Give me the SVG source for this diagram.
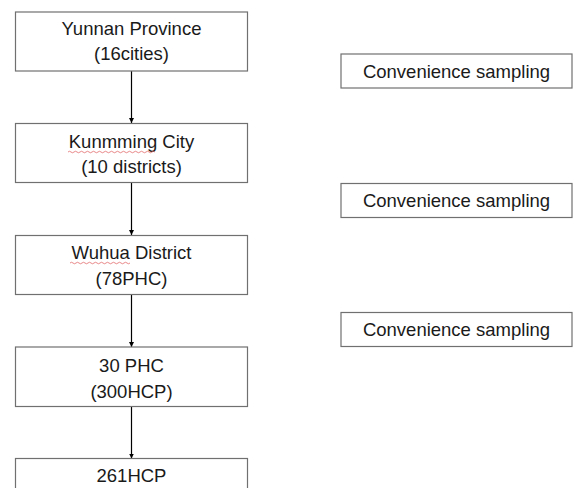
<svg xmlns="http://www.w3.org/2000/svg" width="574" height="488" viewBox="0 0 574 488">
  <defs>
    <marker id="arrowhead" viewBox="0 0 10 10" refX="10" refY="5" markerWidth="5" markerHeight="6" markerUnits="userSpaceOnUse" orient="auto">
      <path d="M0,0 L10,5 L0,10 Z" fill="#000"/>
    </marker>
    <style>
      .box { fill: #fff; stroke: #707070; stroke-width: 1.2; }
      .label { font-family: "Liberation Sans", Arial, sans-serif; font-size: 18.5px; fill: #1a1a1a; text-anchor: middle; }
      .edge { stroke: #000; stroke-width: 1.2; fill: none; marker-end: url(#arrowhead); }
      .squiggle { stroke: #e26a6a; stroke-width: 0.8; fill: none; }
    </style>
  </defs>
  <rect width="574" height="488" fill="#fff"/>

  <g id="connectors">
    <line class="edge" x1="131.5" y1="71" x2="131.5" y2="123"/>
    <line class="edge" x1="131.5" y1="183" x2="131.5" y2="235"/>
    <line class="edge" x1="131.5" y1="295" x2="131.5" y2="347"/>
    <line class="edge" x1="131.5" y1="407" x2="131.5" y2="458.5"/>
  </g>

  <g id="yunnan">
    <rect class="box" x="15.5" y="12" width="232" height="59"/>
    <text class="label" x="131.5" y="35">Yunnan Province</text>
    <text class="label" x="131.5" y="60">(16cities)</text>
  </g>

  <g id="kunming">
    <rect class="box" x="15.5" y="123.5" width="232" height="59"/>
    <text class="label" x="131.5" y="148">Kunmming City</text>
    <!-- spell-check underline under the first word -->
    <path class="squiggle" d="M68,152 q1.5,-1.5 3,0 t3,0 t3,0 t3,0 t3,0 t3,0 t3,0 t3,0 t3,0 t3,0 t3,0 t3,0 t3,0 t3,0 t3,0 t3,0 t3,0 t3,0 t3,0 t3,0 t3,0 t3,0 t3,0 t3,0 t3,0 t3,0 t3,0 t3,0 t3,0"/>
    <text class="label" x="131.5" y="173">(10 districts)</text>
  </g>

  <g id="wuhua">
    <rect class="box" x="15.5" y="235.5" width="232" height="59"/>
    <text class="label" x="131.5" y="259">Wuhua District</text>
    <path class="squiggle" d="M70,263 q1.5,-1.5 3,0 t3,0 t3,0 t3,0 t3,0 t3,0 t3,0 t3,0 t3,0 t3,0 t3,0 t3,0 t3,0 t3,0 t3,0 t3,0 t3,0 t3,0 t3,0 t3,0"/>
    <text class="label" x="131.5" y="285">(78PHC)</text>
  </g>

  <g id="phc">
    <rect class="box" x="15.5" y="347" width="232" height="59.5"/>
    <text class="label" x="131.5" y="372">30 PHC</text>
    <text class="label" x="131.5" y="398">(300HCP)</text>
  </g>

  <g id="hcp">
    <rect class="box" x="15.5" y="458.5" width="232" height="40"/>
    <text class="label" x="131.5" y="482">261HCP</text>
  </g>

  <g id="sampling-1">
    <rect class="box" x="341" y="54" width="231" height="34"/>
    <text class="label" x="456.5" y="78">Convenience sampling</text>
  </g>

  <g id="sampling-2">
    <rect class="box" x="341" y="183.5" width="231" height="34"/>
    <text class="label" x="456.5" y="207">Convenience sampling</text>
  </g>

  <g id="sampling-3">
    <rect class="box" x="341" y="312.5" width="231" height="34"/>
    <text class="label" x="456.5" y="336">Convenience sampling</text>
  </g>
</svg>
